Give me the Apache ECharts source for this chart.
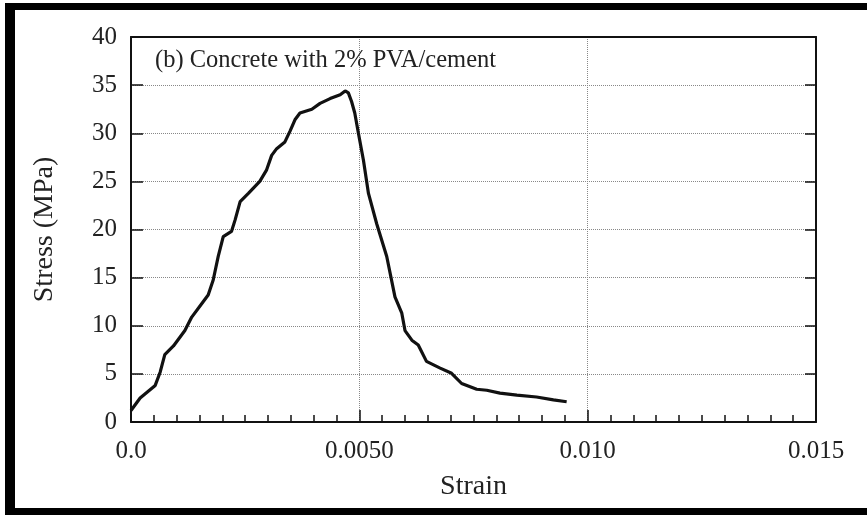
<!DOCTYPE html>
<html>
<head>
<meta charset="utf-8">
<script src="https://cdn.jsdelivr.net/npm/echarts@6/dist/echarts.min.js"></script>
<style>html,body{margin:0;padding:0;background:#fff;}#c{width:867px;height:515px;}</style>
</head>
<body>
<div id="c"></div>
<script>
const strain = [0, 0.0002, 0.00053, 0.00064, 0.00074, 0.00093, 0.00118, 0.00133, 0.00158, 0.00169,
  0.0018, 0.00191, 0.00202, 0.0022, 0.00228, 0.00239, 0.00257, 0.00282, 0.00297, 0.00308,
  0.00319, 0.00337, 0.00348, 0.00359, 0.0037, 0.00396, 0.00414, 0.00436, 0.00458, 0.00469,
  0.00476, 0.00483, 0.0049, 0.00498, 0.00509, 0.0052, 0.00538, 0.0056, 0.00578, 0.00593,
  0.006, 0.00615, 0.00629, 0.00647, 0.00677, 0.00702, 0.00724, 0.00757, 0.00779, 0.00808,
  0.00845, 0.00888, 0.00925, 0.00954];
const stress = [1.2, 2.5, 3.8, 5.2, 7.0, 7.9, 9.5, 10.9, 12.5, 13.2,
  14.75, 17.2, 19.25, 19.8, 21.0, 22.9, 23.75, 25.0, 26.2, 27.7,
  28.4, 29.1, 30.2, 31.4, 32.1, 32.5, 33.1, 33.6, 34.0, 34.4,
  34.2, 33.3, 32.1, 30.0, 27.2, 23.75, 20.6, 17.2, 13.0, 11.3,
  9.5, 8.5, 8.0, 6.3, 5.6, 5.06, 4.0, 3.4, 3.3, 3.0,
  2.8, 2.6, 2.3, 2.1];
const xTickLabels = ["0.0", "0.0050", "0.010", "0.015"];
const yTickLabels = ["0", "5", "10", "15", "20", "25", "30", "35", "40"];
const titleText = "(b) Concrete with 2% PVA/cement";

const FONT = "'Liberation Serif', 'Times New Roman', serif";
const chart = echarts.init(document.getElementById('c'));
const pts = strain.map((s, i) => [s, stress[i]]);
const AXLINE = { show: true, onZero: false, lineStyle: { color: '#111', width: 2 } };
chart.setOption({
  animation: false,
  backgroundColor: '#fff',
  title: {
    text: titleText, left: 155, top: 48, padding: 0,
    textStyle: { fontFamily: FONT, fontSize: 24.5, fontWeight: 'normal', color: '#222' }
  },
  grid: { left: 131, right: 51, top: 37, bottom: 93 },
  xAxis: [{
    type: 'value', position: 'bottom', min: 0, max: 0.015, interval: 0.005,
    name: 'Strain', nameLocation: 'middle', nameGap: 51,
    nameTextStyle: { fontFamily: FONT, fontSize: 28, color: '#222' },
    axisLine: AXLINE,
    axisTick: { show: true, inside: true, length: 12, lineStyle: { color: '#111', width: 1.5 } },
    minorTick: { show: true, splitNumber: 10, length: 7, lineStyle: { color: '#111', width: 1.5 } },
    axisLabel: {
      fontFamily: FONT, fontSize: 25, color: '#222', margin: 17,
      formatter: v => xTickLabels[Math.round(v / 0.005)]
    },
    splitLine: { show: true, lineStyle: { color: '#888', type: 'dotted', width: 1 } }
  }, {
    type: 'value', position: 'top', min: 0, max: 0.015,
    axisLine: AXLINE,
    axisTick: { show: false }, axisLabel: { show: false }, splitLine: { show: false }
  }],
  yAxis: [{
    type: 'value', position: 'left', min: 0, max: 40, interval: 5,
    name: 'Stress (MPa)', nameLocation: 'middle', nameGap: 72,
    nameTextStyle: { fontFamily: FONT, fontSize: 28, color: '#222' },
    axisLine: AXLINE,
    axisTick: { show: true, inside: true, length: 12, lineStyle: { color: '#111', width: 1.5 } },
    axisLabel: {
      fontFamily: FONT, fontSize: 25, color: '#222', margin: 14,
      formatter: v => yTickLabels[Math.round(v / 5)]
    },
    splitLine: { show: true, lineStyle: { color: '#888', type: 'dotted', width: 1 } }
  }, {
    type: 'value', position: 'right', min: 0, max: 40, interval: 5,
    axisLine: AXLINE,
    axisTick: { show: true, inside: true, length: 11, lineStyle: { color: '#111', width: 1.5 } },
    axisLabel: { show: false }, splitLine: { show: false }
  }],
  graphic: [
    { type: 'rect', shape: { x: 5, y: 3, width: 10, height: 512 }, style: { fill: '#000' } },
    { type: 'rect', shape: { x: 5, y: 3, width: 862, height: 7 }, style: { fill: '#000' } },
    { type: 'rect', shape: { x: 5, y: 508, width: 862, height: 7 }, style: { fill: '#000' } }
  ],
  series: [{
    type: 'line', data: pts, showSymbol: false, smooth: false,
    lineStyle: { color: '#111', width: 3.2 }
  }]
});
</script>
</body>
</html>
